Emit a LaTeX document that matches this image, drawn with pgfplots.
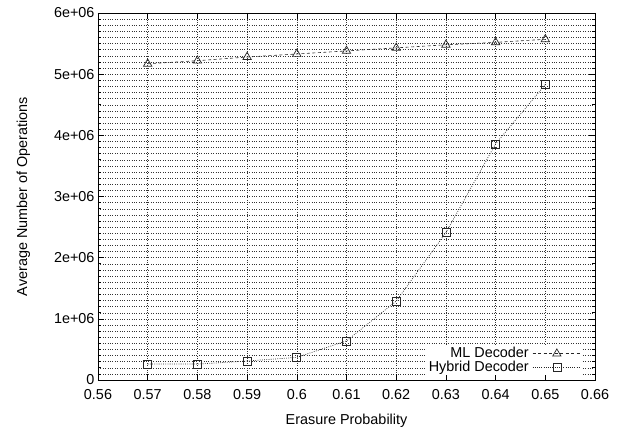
\documentclass[border=0pt]{standalone}
\usepackage{fontspec}
\setmainfont{Liberation Sans}
\usepackage{pgfplots}
\pgfplotsset{compat=1.18}

\begin{document}
\begin{tikzpicture}[font=\fontsize{14.4}{16}\selectfont]
    \begin{axis}[
        scale only axis,
        width=497pt, height=367pt,
        xmin=0.56, xmax=0.66,
        ymin=0, ymax=6e6,
        xtick={0.56,0.57,0.58,0.59,0.60,0.61,0.62,0.63,0.64,0.65,0.66},
        xticklabels={0.56,0.57,0.58,0.59,0.6,0.61,0.62,0.63,0.64,0.65,0.66},
        ytick={0,1e6,2e6,3e6,4e6,5e6,6e6},
        yticklabels={0,1e+06,2e+06,3e+06,4e+06,5e+06,6e+06},
        minor y tick num=9,
        scaled ticks=false,
        tick align=inside,
        major tick length=6pt,
        minor tick length=3pt,
        tick style={black, line width=0.6pt},
        grid=both,
        major grid style={black!80, dotted, line width=0.5pt},
        minor grid style={black!80, dotted, line width=0.4pt},
        axis line style={black, line width=0.9pt},
        xticklabel style={yshift=-6pt},
        xlabel={Erasure Probability},
        ylabel={Average Number of Operations},
        xlabel style={yshift=-7pt},
        ylabel style={yshift=17pt},
        legend plot pos=right,
        legend cell align=right,
        legend style={at={(rel axis cs:0.975,0.012)}, anchor=south east,
            draw=none, fill=white, row sep=0pt, column sep=3pt, inner sep=1pt,
            nodes={inner sep=0.5pt, text height=10pt, text depth=2.8pt}},
    ]
    \coordinate (sw) at (rel axis cs:0,0);
    \coordinate (ne) at (rel axis cs:1,1);

    \addplot[black!85, dash pattern=on 3pt off 2.5pt, line width=0.6pt, mark=triangle,
        mark size=4.8pt, mark options={solid, line width=0.7pt},
        legend image code/.code={\draw[mark repeat=2, mark phase=2]
            plot coordinates {(0cm,0cm) (0.85cm,0cm) (1.7cm,0cm)};}] coordinates {
        (0.57,5.17e6) (0.58,5.22e6) (0.59,5.28e6) (0.60,5.33e6) (0.61,5.38e6)
        (0.62,5.43e6) (0.63,5.48e6) (0.64,5.52e6) (0.65,5.57e6)
    };
    \addlegendentry{ML Decoder}

    \addplot[black!85, dash pattern=on 0.8pt off 1.4pt, line width=0.7pt, mark=square,
        mark size=4pt, mark options={solid, line width=0.7pt},
        legend image code/.code={\draw[mark repeat=2, mark phase=2]
            plot coordinates {(0cm,0cm) (0.85cm,0cm) (1.7cm,0cm)};}] coordinates {
        (0.57,0.26e6) (0.58,0.26e6) (0.59,0.31e6) (0.60,0.37e6) (0.61,0.64e6)
        (0.62,1.29e6) (0.63,2.41e6) (0.64,3.86e6) (0.65,4.83e6)
    };
    \addlegendentry{Hybrid Decoder}
    \end{axis}
    \path ([shift={(-98pt,-48pt)}]sw) rectangle ([shift={(30pt,13pt)}]ne);
\end{tikzpicture}
\end{document}
